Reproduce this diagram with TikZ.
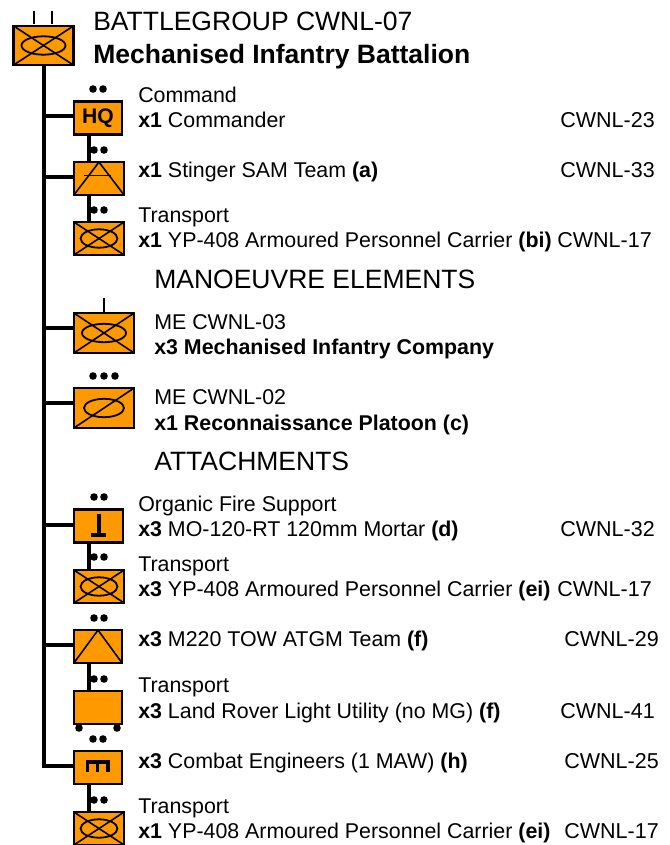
\documentclass[tikz,border=0pt]{standalone}
\usepackage{fontspec}
\setmainfont{Liberation Sans}
\usepackage{xcolor}
\usetikzlibrary{positioning}
\definecolor{unitorange}{RGB}{255,153,0}

\tikzset{
    unitbox/.style={draw=black, fill=unitorange, line width=0.055cm, inner sep=0pt},
    smallbox/.style={unitbox, minimum width=1.2cm, minimum height=0.82cm},
    widebox/.style={unitbox, minimum width=1.48cm, minimum height=0.98cm},
    crossbox/.style={path picture={
        \draw[line width=0.04cm] (path picture bounding box.north west) -- (path picture bounding box.south east);
        \draw[line width=0.04cm] (path picture bounding box.south west) -- (path picture bounding box.north east);}},
    ovalbox/.style={path picture={
        \draw[line width=0.04cm] (path picture bounding box.south west) -- (path picture bounding box.north east);
        \draw[line width=0.045cm] (path picture bounding box.center) ellipse (#1 and 0.23cm);}},
    infbox/.style={crossbox, postaction={path picture={
        \draw[line width=0.045cm] (path picture bounding box.center) ellipse (#1 and 0.23cm);}}},
    teambox/.style={path picture={
        \draw[line width=0.04cm] (path picture bounding box.south west) -- (path picture bounding box.north) -- (path picture bounding box.south east);}},
    trunkline/.style={draw=black, line width=0.1cm},
    bodytext/.style={anchor=base west, inner sep=0pt, yshift=-0.025cm, font=\fontsize{15.2}{17}\selectfont},
    headtext/.style={anchor=base west, inner sep=0pt, yshift=-0.025cm, font=\fontsize{18.85}{22}\selectfont},
    codetext/.style={anchor=base east, inner sep=0pt, yshift=-0.025cm, font=\fontsize{15.3}{17}\selectfont}
}

\begin{document}
\begin{tikzpicture}[x=0.025cm, y=-0.025cm]
\useasboundingbox (0,0) rectangle (669,845);

% battlegroup
\node[widebox, minimum width=1.5cm, infbox=0.55cm] (bg) at (43.5,45.5) {};
\node[headtext] (bgname) at (93,30) {BATTLEGROUP CWNL-07};
\node[headtext] (bgrole) at (93,63) {\textbf{Mechanised Infantry Battalion}};
\draw[line width=0.07cm] (34,11) -- (34,24) (52,11) -- (52,24);

% command group
\node[smallbox, font=\fontsize{15}{17}\selectfont\bfseries] (hq) at (98,118) {HQ};
\node[smallbox, minimum width=1.25cm, teambox] (sam) at (99,178.5) {};
\draw[line width=0.04cm] (84,175.5) -- (111,175.5);
\node[smallbox, minimum width=1.25cm, infbox=0.46cm] (cmdapc) at (99,238.5) {};

% manoeuvre elements
\node[widebox, infbox=0.55cm] (coy) at (104,333) {};
\draw[line width=0.07cm] (104,298) -- (104,312);
\node[widebox, ovalbox=0.5cm] (recce) at (104,408) {};

% attachments
\node[smallbox, minimum width=1.22cm] (mortar) at (98.5,526) {};
\draw[line width=0.08cm] (99,514) -- (99,535) (91,535) -- (106,535);
\node[smallbox, minimum width=1.25cm, infbox=0.46cm] (morapc) at (99,586.5) {};
\node[smallbox, teambox] (tow) at (98,646.5) {};
\node[smallbox] (rover) at (98,707.5) {};
\fill (79,728) circle (3.8) (117,728) circle (3.8);
\node[smallbox] (eng) at (98,767.5) {};
\draw[line width=0.08cm] (87.5,772) -- (87.5,762) -- (108,762) -- (108,772) (97.8,762) -- (97.8,772);
\node[smallbox, minimum width=1.25cm, infbox=0.46cm] (engapc) at (99,828.5) {};

% trunk and branches
\draw[trunkline] (bg.south) -- (43.5,768);
\foreach \yy/\unit in {116/hq,177/sam,328/coy,403/recce,525/mortar,645/tow,766/eng} {
    \coordinate (tap) at (43.5,\yy);
    \draw[line width=0.09cm] (tap) -- (tap -| \unit.west);
}
\foreach \upper/\lower in {hq/sam,sam/cmdapc,mortar/morapc,tow/rover,eng/engapc} {
    \coordinate (drop) at (88.5,0);
    \draw[trunkline] (\upper.south -| drop) -- (\lower.north -| drop);
}

% echelon dots
\foreach \xx/\yy in {93/89,94/150,94/210,94/497,94/557,94/618,94/679,93/739,94/800} {
    \fill (\xx,\yy) circle (3.8) (\xx+10,\yy) circle (3.8);
}
\foreach \xx in {93,104,115} \fill (\xx,376) circle (3.8);

% command group text
\node[bodytext] (hqtop) at (138,102) {Command};
\node[bodytext] (hqtxt) at (138,127) {\textbf{x1} Commander};
\node[codetext] (hqcode) at (655,127) {CWNL-23};
\node[bodytext] (samtxt) at (138,177) {\textbf{x1} Stinger SAM Team \textbf{(a)}};
\node[codetext] (samcode) at (655,177) {CWNL-33};
\node[bodytext] (apctop) at (138,222) {Transport};
\node[bodytext] (apctxt) at (138,247) {\textbf{x1} YP-408 Armoured Personnel Carrier \textbf{(bi)}};
\node[codetext] (apccode) at (652,247) {CWNL-17};

% manoeuvre text
\node[headtext] (mehead) at (154,288) {MANOEUVRE ELEMENTS};
\node[bodytext] (coytop) at (154,328) {ME CWNL-03};
\node[bodytext] (coytxt) at (154,353) {\textbf{x3 Mechanised Infantry Company}};
\node[bodytext] (rectop) at (154,403) {ME CWNL-02};
\node[bodytext] (rectxt) at (154,429) {\textbf{x1 Reconnaissance Platoon (c)}};

% attachment text
\node[headtext] (athead) at (154,469) {ATTACHMENTS};
\node[bodytext] (mortop) at (138,510) {Organic Fire Support};
\node[bodytext] (mortxt) at (138,535) {\textbf{x3} MO-120-RT 120mm Mortar \textbf{(d)}};
\node[codetext] (morcode) at (655,535) {CWNL-32};
\node[bodytext] (mapctop) at (138,570) {Transport};
\node[bodytext] (mapctxt) at (138,595) {\textbf{x3} YP-408 Armoured Personnel Carrier \textbf{(ei)}};
\node[codetext] (mapccode) at (652,595) {CWNL-17};
\node[bodytext] (towtxt) at (138,645) {\textbf{x3} M220 TOW ATGM Team \textbf{(f)}};
\node[codetext] (towcode) at (659,645) {CWNL-29};
\node[bodytext] (lrtop) at (138,691) {Transport};
\node[bodytext] (lrtxt) at (138,717) {\textbf{x3} Land Rover Light Utility (no MG) \textbf{(f)}};
\node[codetext] (lrcode) at (655,717) {CWNL-41};
\node[bodytext] (engtxt) at (138,767) {\textbf{x3} Combat Engineers (1 MAW) \textbf{(h)}};
\node[codetext] (engcode) at (659,767) {CWNL-25};
\node[bodytext] (eapctop) at (138,812) {Transport};
\node[bodytext] (eapctxt) at (138,837) {\textbf{x1} YP-408 Armoured Personnel Carrier \textbf{(ei)}};
\node[codetext] (eapccode) at (659,837) {CWNL-17};
\end{tikzpicture}
\end{document}
